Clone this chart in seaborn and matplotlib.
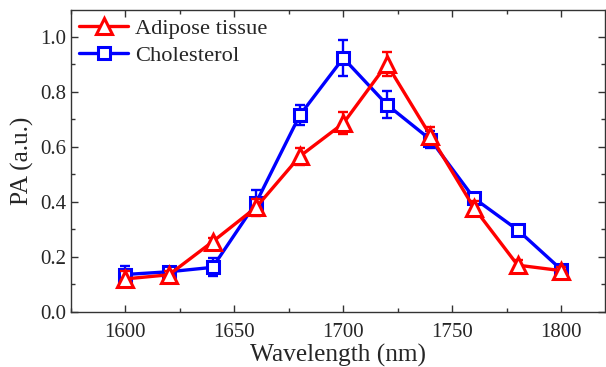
import matplotlib
matplotlib.use("Agg")
import matplotlib.pyplot as plt
import seaborn as sns
import numpy as np
import pandas as pd
from matplotlib.ticker import MultipleLocator

wavelength = [1600, 1620, 1640, 1660, 1680, 1700, 1720, 1740, 1760, 1780, 1800]
adipose = [0.12, 0.135, 0.255, 0.38, 0.565, 0.685, 0.90, 0.64, 0.378, 0.17, 0.15]
adipose_err = [0.03, 0.012, 0.012, 0.03, 0.03, 0.04, 0.044, 0.03, 0.025, 0.02, 0.012]
cholesterol = [0.136, 0.146, 0.162, 0.397, 0.714, 0.922, 0.753, 0.626, 0.413, 0.298, 0.154]
cholesterol_err = [0.032, 0.015, 0.033, 0.045, 0.036, 0.065, 0.048, 0.03, 0.015, 0.015, 0.01]

sns.set_theme(style="ticks")
plt.rcParams['font.family'] = ['Liberation Serif', 'DejaVu Serif']

fig = plt.figure(figsize=(6.06, 3.67), dpi=100)
ax = fig.add_axes([0.117, 0.150, 0.881, 0.823])

df_a = pd.DataFrame({"w": wavelength, "v": adipose})
df_c = pd.DataFrame({"w": wavelength, "v": cholesterol})

ax.errorbar(wavelength, cholesterol, yerr=cholesterol_err, fmt='none',
            ecolor='#0000ff', elinewidth=1.7, capsize=3.5, capthick=1.7, zorder=2)
sns.lineplot(data=df_c, x="w", y="v", ax=ax, color='#0000ff', linewidth=2.4,
             marker='s', markersize=8.5, markerfacecolor='white',
             markeredgecolor='#0000ff', markeredgewidth=2.2,
             label='Cholesterol', zorder=3)
ax.errorbar(wavelength, adipose, yerr=adipose_err, fmt='none',
            ecolor='#ff0000', elinewidth=1.7, capsize=3.5, capthick=1.7, zorder=4)
sns.lineplot(data=df_a, x="w", y="v", ax=ax, color='#ff0000', linewidth=2.4,
             marker='^', markersize=11, markerfacecolor='white',
             markeredgecolor='#ff0000', markeredgewidth=2.2,
             label='Adipose tissue', zorder=5)

ax.set_xlim(1575, 1820)
ax.set_ylim(0.0, 1.097)
ax.xaxis.set_major_locator(MultipleLocator(50))
ax.xaxis.set_minor_locator(MultipleLocator(25))
ax.yaxis.set_major_locator(MultipleLocator(0.2))
ax.yaxis.set_minor_locator(MultipleLocator(0.1))
ax.yaxis.set_major_formatter(matplotlib.ticker.FormatStrFormatter('%.1f'))
ax.tick_params(which='both', direction='in', top=True, right=True,
               labelsize=15, color='#333333', width=1.0)
ax.tick_params(which='major', length=5)
ax.tick_params(which='minor', length=3)
ax.tick_params(axis='x', pad=8)
for s in ax.spines.values():
    s.set_color('#333333')
    s.set_linewidth(1.0)

ax.set_xlabel('Wavelength (nm)', fontsize=18.3, labelpad=1)
ax.set_ylabel('PA (a.u.)', fontsize=18.3, labelpad=4)

handles, labels = ax.get_legend_handles_labels()
order = [labels.index('Adipose tissue'), labels.index('Cholesterol')]
leg = ax.legend([handles[i] for i in order], [labels[i] for i in order],
                loc='upper left', frameon=False, fontsize=16.2,
                handlelength=2.2, handletextpad=0.3, borderaxespad=0.15,
                labelspacing=0.3, borderpad=0.2)

fig.savefig('out.png', dpi=100)
